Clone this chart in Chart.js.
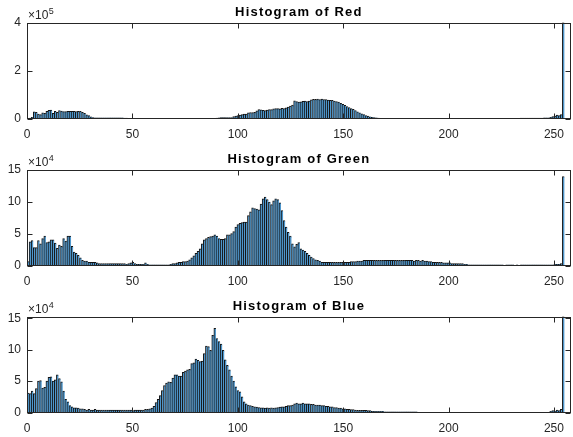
<!DOCTYPE html>
<html>
<head>
<meta charset="utf-8">
<script src="https://cdn.jsdelivr.net/npm/chart.js@4"></script>
<style>
  html, body { margin: 0; padding: 0; background: #fff; }
  #fig { position: relative; width: 573px; height: 437px; overflow: hidden; }
  #fig canvas { position: absolute; left: 0; }
</style>
</head>
<body>
<div id="fig">
  <canvas id="red" width="573" height="147" style="top:0px"></canvas>
  <canvas id="green" width="573" height="147" style="top:147px"></canvas>
  <canvas id="blue" width="573" height="147" style="top:294px"></canvas>
</div>
<script>
// pixel counts per intensity bin (0..255), in units of 10^4
const redCounts = [
  0.1,0.2,0.5,2.8,2.6,1.8,1.6,2.4,2.2,3.0,
  3.4,3.5,2.2,3.0,2.6,3.3,3.1,2.9,2.9,3.0,
  3.0,3.0,3.0,2.9,3.0,3.0,2.6,2.2,1.5,1.2,
  0.7,0.4,0.3,0.3,0.3,0.3,0.3,0.3,0.3,0.3,
  0.3,0.3,0.3,0.3,0.3,0.3,0.2,0.2,0.1,0,
  0,0,0,0,0,0,0,0,0,0,
  0,0,0,0,0,0,0,0,0,0,
  0,0,0,0,0,0,0,0,0,0,
  0,0,0,0,0,0,0,0,0,0.1,
  0.2,0.3,0.4,0.4,0.4,0.4,0.4,0.4,0.8,1.0,
  1.2,1.4,1.6,1.8,1.8,2.4,2.5,2.5,2.6,3.2,
  3.7,3.6,3.4,3.3,3.5,3.7,3.7,4.0,4.1,4.1,
  4.0,4.2,4.1,4.4,4.8,5.2,5.6,7.4,7.0,6.8,
  6.9,7.2,7.3,7.0,7.3,7.8,8.0,8.0,8.1,7.9,
  8.1,7.9,7.9,7.7,7.6,7.6,7.3,7.0,6.8,6.3,
  5.9,5.5,5.0,4.6,4.1,3.8,3.3,2.8,2.4,1.9,
  1.6,1.2,1.0,0.7,0.5,0.4,0.3,0.2,0.1,0.1,
  0.1,0,0,0,0,0,0,0,0,0,
  0,0,0,0,0,0,0,0,0,0,
  0,0,0,0,0,0,0,0,0,0,
  0,0,0,0,0,0,0,0,0,0,
  0,0,0,0,0,0,0,0,0,0,
  0,0,0,0,0,0,0,0,0,0,
  0,0,0.1,0,0,0.2,0.2,0.2,0.2,0.2,
  0.2,0.2,0.2,0.2,0.2,0.2,0.3,0.3,0.3,0.5,
  0.8,1.0,1.4,1.2,1.6,40
];
const greenCounts = [
  0.6,3.7,3.9,2.8,2.8,3.9,3.4,4.2,4.6,3.6,
  3.7,4.0,4.0,3.5,2.7,3.2,3.0,4.2,3.8,4.6,
  4.6,3.0,2.1,1.9,1.6,1.2,0.8,0.7,0.7,0.5,
  0.5,0.5,0.5,0.4,0.3,0.3,0.3,0.3,0.3,0.3,
  0.3,0.3,0.3,0.3,0.3,0.3,0.3,0.2,0.3,0.4,
  0.5,0.3,0.2,0.2,0.2,0.2,0.4,0.2,0.1,0.1,
  0.1,0.1,0.1,0.1,0.1,0.1,0.1,0.1,0.2,0.3,
  0.3,0.4,0.5,0.5,0.6,0.6,0.7,0.9,1.2,1.5,
  1.9,2.2,2.6,3.4,4.0,4.2,4.4,4.5,4.6,4.8,
  4.6,4.2,4.1,4.1,4.2,4.8,4.8,5.0,5.3,6.0,
  6.4,6.6,6.7,6.8,6.8,7.8,8.4,9.0,8.9,8.8,
  8.7,9.6,10.4,10.7,10.3,9.9,9.5,10.1,10.4,10.3,
  9.8,8.6,7.0,6.0,5.2,4.6,3.4,2.9,3.3,3.6,
  2.6,2.4,2.2,1.9,1.6,1.3,1.1,0.9,0.8,0.7,
  0.5,0.5,0.5,0.5,0.5,0.5,0.5,0.5,0.5,0.5,
  0.5,0.5,0.5,0.5,0.6,0.6,0.6,0.7,0.7,0.7,
  0.8,0.8,0.8,0.8,0.8,0.8,0.8,0.8,0.8,0.8,
  0.8,0.8,0.8,0.8,0.8,0.8,0.8,0.8,0.8,0.8,
  0.8,0.8,0.8,0.8,0.7,0.8,0.8,0.7,0.8,0.7,
  0.7,0.6,0.6,0.5,0.5,0.5,0.5,0.5,0.4,0.4,
  0.4,0.4,0.3,0.3,0.3,0.3,0.3,0.3,0.2,0.2,
  0.1,0.1,0.1,0.1,0.1,0.1,0.1,0.1,0.1,0.1,
  0.1,0.1,0.1,0.1,0.1,0.1,0.1,0,0.1,0.1,
  0.1,0.1,0,0.1,0,0.1,0.1,0.1,0.1,0.1,
  0.1,0.1,0.1,0.1,0.1,0.1,0.1,0.1,0.1,0.1,
  0.1,0.2,0.2,0.2,0.3,13.9
];
const blueCounts = [
  3.1,3.0,3.4,3.0,3.8,5.0,5.1,3.9,4.0,5.0,
  5.6,5.7,5.0,5.2,6.0,5.4,4.9,3.4,2.1,1.7,
  1.1,0.9,0.75,0.75,0.7,0.6,0.6,0.5,0.4,0.5,
  0.4,0.4,0.5,0.4,0.4,0.4,0.4,0.4,0.4,0.4,
  0.4,0.4,0.4,0.4,0.4,0.4,0.4,0.4,0.4,0.4,
  0.3,0.4,0.4,0.4,0.4,0.4,0.5,0.5,0.6,0.7,
  1.0,1.6,2.1,2.7,3.5,4.3,4.7,4.9,4.8,5.5,
  6.0,6.0,5.8,5.8,6.4,6.6,6.8,6.9,7.8,7.9,
  8.5,8.3,8.1,8.2,9.4,10.6,10.5,9.9,12.3,13.4,
  11.8,11.3,10.9,9.9,8.4,7.5,6.8,5.8,5.0,4.1,
  3.5,3.3,2.5,1.7,1.4,1.2,1.1,1.0,0.9,0.85,
  0.8,0.75,0.75,0.7,0.75,0.7,0.75,0.7,0.75,0.8,
  0.85,0.9,0.9,1.0,1.1,1.1,1.2,1.4,1.5,1.4,
  1.4,1.5,1.4,1.4,1.4,1.3,1.3,1.2,1.2,1.2,
  1.1,1.1,1.0,1.0,0.9,0.9,0.8,0.8,0.7,0.7,
  0.6,0.6,0.5,0.5,0.45,0.45,0.4,0.35,0.35,0.35,
  0.35,0.35,0.3,0.3,0.2,0.2,0.2,0.2,0.2,0.2,
  0.1,0.1,0.1,0.1,0.1,0.1,0.1,0.1,0.1,0.1,
  0.1,0.1,0.1,0.1,0.1,0.1,0,0,0,0,
  0,0,0,0,0,0,0,0,0,0,
  0,0,0,0,0,0,0,0,0,0,
  0,0,0,0,0,0,0,0,0,0,
  0,0,0,0,0,0,0,0,0,0,
  0,0,0,0,0,0,0,0,0,0,
  0,0,0,0,0,0,0,0,0,0.2,
  0.3,0.2,0.4,0.3,0.5,15.3
];
const COUNT_UNIT = 1e4;

const xTicks = [0, 50, 100, 150, 200, 250];
const redTicks = [0, 2, 4];        // x10^5
const greenTicks = [0, 5, 10, 15]; // x10^4
const blueTicks = [0, 5, 10, 15];  // x10^4

Chart.defaults.font.family = '"Liberation Sans", Arial, sans-serif';
Chart.defaults.font.size = 12;
Chart.defaults.color = '#262626';

// matlab style box, inward ticks, title and axis exponent
const axesBox = {
  id: 'axesBox',
  afterDraw(chart, args, opts) {
    const ctx = chart.ctx, a = chart.chartArea;
    const xs = chart.scales.x, ys = chart.scales.y;
    const L = Math.round(a.left) + 0.5, R = Math.round(a.right) - 0.5;
    const T = Math.round(a.top) + 0.5, B = Math.round(a.bottom) - 0.5;
    ctx.save();
    ctx.strokeStyle = '#262626';
    ctx.lineWidth = 1;
    ctx.strokeRect(L, T, R - L, B - T);
    ctx.beginPath();
    xs.ticks.forEach(t => {
      const px = Math.round(xs.getPixelForValue(t.value)) + 0.5;
      ctx.moveTo(px, B); ctx.lineTo(px, B - 5);
      ctx.moveTo(px, T); ctx.lineTo(px, T + 5);
    });
    ys.ticks.forEach(t => {
      const py = Math.round(ys.getPixelForValue(t.value)) + 0.5;
      ctx.moveTo(L, py); ctx.lineTo(L + 5, py);
      ctx.moveTo(R, py); ctx.lineTo(R - 5, py);
    });
    ctx.stroke();

    ctx.fillStyle = '#000';
    ctx.font = 'bold 13px "Liberation Sans", Arial, sans-serif';
    ctx.letterSpacing = '1.2px';
    ctx.textAlign = 'center';
    ctx.textBaseline = 'alphabetic';
    ctx.fillText(opts.title, (a.left + a.right) / 2, a.top - 7);

    ctx.letterSpacing = '0px';
    ctx.fillStyle = '#262626';
    ctx.textAlign = 'left';
    ctx.font = '12px "Liberation Sans", Arial, sans-serif';
    const base = '\u00d710';
    ctx.fillText(base, a.left + 1, a.top - 3.5);
    const w = ctx.measureText(base).width;
    ctx.font = '9px "Liberation Sans", Arial, sans-serif';
    ctx.fillText(String(opts.exponent), a.left + 1 + w + 0.5, a.top - 9);
    ctx.restore();
  }
};

function makeHist(id, title, counts, yMax, yTicks, exponent) {
  const scaleDiv = Math.pow(10, exponent);
  return new Chart(document.getElementById(id), {
    type: 'bar',
    data: {
      datasets: [{
        data: counts.map((c, i) => ({ x: (i + 0.5) * 255 / 256, y: c * COUNT_UNIT })),
        backgroundColor: '#4e97cd',
        borderColor: '#141414',
        borderWidth: { top: 1, left: 1, right: 0, bottom: 0 },
        barPercentage: 1,
        categoryPercentage: 1
      }]
    },
    options: {
      responsive: false,
      animation: false,
      layout: { padding: { top: 22.5, right: 2, left: 0, bottom: 0 } },
      plugins: {
        legend: { display: false },
        tooltip: { enabled: false },
        axesBox: { title: title, exponent: exponent }
      },
      scales: {
        x: {
          type: 'linear', min: 0, max: 258, offset: false,
          grid: { display: false, drawTicks: false },
          border: { display: false },
          afterBuildTicks: s => { s.ticks = xTicks.map(v => ({ value: v })); },
          afterFit: s => { s.height = 28.5; },
          ticks: { padding: 9, maxRotation: 0, autoSkip: false, callback: v => String(v) }
        },
        y: {
          min: 0, max: yMax,
          grid: { display: false, drawTicks: false },
          border: { display: false },
          afterBuildTicks: s => { s.ticks = yTicks.map(v => ({ value: v * scaleDiv })); },
          afterFit: s => { s.width = 27; },
          ticks: { padding: 6, callback: v => String(Math.round(v / scaleDiv)) }
        }
      }
    },
    plugins: [axesBox]
  });
}

makeHist('red', 'Histogram of Red', redCounts, 400000, redTicks, 5);
makeHist('green', 'Histogram of Green', greenCounts, 150000, greenTicks, 4);
makeHist('blue', 'Histogram of Blue', blueCounts, 153000, blueTicks, 4);
</script>
</body>
</html>
